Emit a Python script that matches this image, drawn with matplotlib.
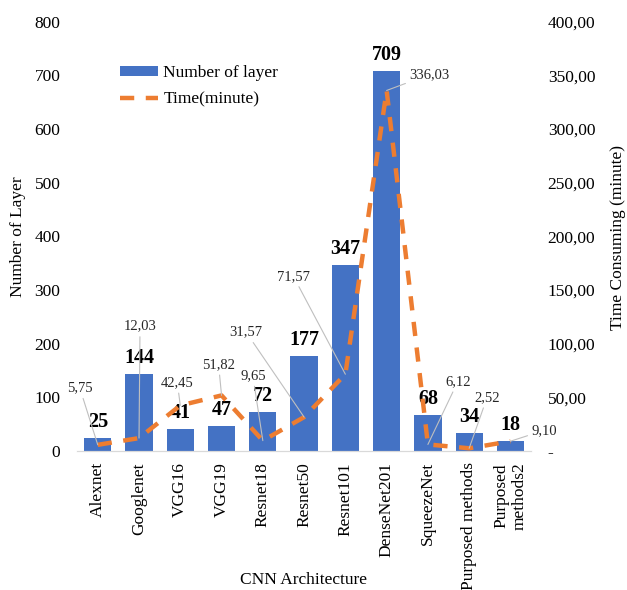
import matplotlib

matplotlib.use("Agg")
import matplotlib.pyplot as plt
from matplotlib.ticker import FuncFormatter

plt.rcParams["font.family"] = ["Liberation Serif", "DejaVu Serif"]

architectures = ["Alexnet", "Googlenet", "VGG16", "VGG19", "Resnet18", "Resnet50",
                 "Resnet101", "DenseNet201", "SqueezeNet", "Purposed methods",
                 "Purposed\nmethods2"]
layers = [25, 144, 41, 47, 72, 177, 347, 709, 68, 34, 18]
minutes = [5.75, 12.03, 42.45, 51.82, 9.65, 31.57, 71.57, 336.03, 6.12, 2.52, 9.10]

# pixel offsets of each time label from its line point
label_offsets = [(-18, 57), (1, 112), (-3, 23), (-3, 31), (-10, 65), (-58, 85),
                 (-52, 98), (43, 16), (30, 63), (18, 51), (34, 11)]

BLUE = "#4472C4"
ORANGE = "#ED7D31"
GREY = "#BFBFBF"


def comma(v, _pos=None, zero="0"):
    if v == 0:
        return zero
    return f"{v:.2f}".replace(".", ",")


fig = plt.figure(figsize=(6.27, 5.9), dpi=100)
ax = fig.add_axes([0.123, 0.2356, 0.724, 0.7274])
ax2 = ax.twinx()

x = range(len(architectures))
bars = ax.bar(x, layers, width=0.66, color=BLUE, label="Number of layer", zorder=1)
line, = ax2.plot(x, minutes, color=ORANGE, lw=3.2, ls=(0, (3.2, 2.6)),
                 label="Time(minute)", zorder=3)

ax.set_xlim(-0.5, len(architectures) - 0.5)
ax.set_ylim(0, 800)
ax2.set_ylim(0, 400)
ax.set_yticks(range(0, 801, 100))
ax2.set_yticks(range(0, 401, 50))
ax2.yaxis.set_major_formatter(FuncFormatter(lambda v, p: comma(v, p, zero="-")))

for a in (ax, ax2):
    for side in ("left", "right", "top"):
        a.spines[side].set_visible(False)
    a.spines["bottom"].set_color("#D9D9D9")
    a.tick_params(length=0, labelsize=12.5)
ax.tick_params(axis="y", pad=12)
ax2.tick_params(axis="y", pad=12)

ax.set_xticks(list(x))
ax.set_xticklabels(architectures, rotation=90, ha="center", va="top",
                   multialignment="center")
ax.tick_params(axis="x", pad=8)

# axis titles placed in figure pixels
W, H = 627, 590
fig.text(18 / W, 1 - 237 / H, "Number of Layer", rotation=90, fontsize=12.5,
         ha="center", va="center")
fig.text(618 / W, 1 - 237 / H, "Time Consuming (minute)", rotation=90, fontsize=12.5,
         ha="center", va="center")
fig.text(303 / W, 1 - 580 / H, "CNN Architecture", fontsize=12.5,
         ha="center", va="center")

# bold layer counts above each bar
for xi, n in zip(x, layers):
    ax.annotate(str(n), (xi, n), xytext=(0, 6), textcoords="offset pixels",
                ha="center", va="bottom", fontsize=14.5, fontweight="bold", zorder=5)

# time values with grey leader lines
for xi, t, (dx, dy) in zip(x, minutes, label_offsets):
    ax2.annotate(comma(t), (xi, t), xytext=(dx, dy), textcoords="offset pixels",
                 ha="center", va="center", fontsize=10.5, color="#262626", zorder=6,
                 arrowprops=dict(arrowstyle="-", color=GREY, lw=0.8,
                                 shrinkA=1, shrinkB=0))

ax.legend([bars, line], ["Number of layer", "Time(minute)"], loc="upper left",
          bbox_to_anchor=(0.06, 0.936), frameon=False, fontsize=12.5,
          handlelength=2.2, handleheight=0.55, labelspacing=0.6, handletextpad=0.3)

fig.savefig("out.png", dpi=100)
